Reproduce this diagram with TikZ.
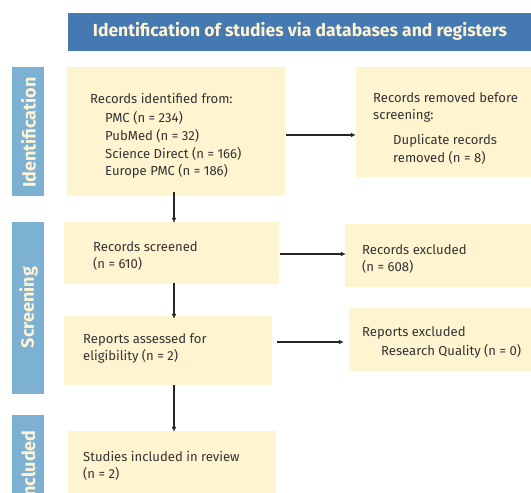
\documentclass[tikz,border=0pt]{standalone}
\usepackage{fontspec}
\setmainfont{Fira Sans}
\usetikzlibrary{arrows.meta}
\definecolor{titlebar}{HTML}{4479B1}
\definecolor{sidebar}{HTML}{7DB1D3}
\definecolor{boxfill}{HTML}{FFF4D0}
\definecolor{cream}{HTML}{FFF3D2}
\definecolor{txt}{HTML}{333333}
\tikzset{
  rbox/.style={fill=boxfill, draw=none, inner sep=0pt},
  sidebox/.style={fill=sidebar, draw=none, inner sep=0pt},
  sidetext/.style={text=cream, font=\fontsize{18}{20}\selectfont\bfseries, rotate=90, inner sep=0pt},
  bodytext/.style={text=txt, font=\fontsize{13.1}{17}\selectfont, anchor=base west, inner sep=0pt},
  arr/.style={-{Latex[length=5pt,width=5pt]}, line width=1.4pt, draw=black!85},
}
\begin{document}
\begin{tikzpicture}[x=1pt,y=-1pt]
\useasboundingbox (0,0) rectangle (531,493);
% title
\fill[titlebar] (68,13) rectangle (545,51);
\node[text=cream, font=\fontsize{17.5}{20}\selectfont\bfseries, inner sep=0pt] (title) at (300,31.5) {Identification of studies via databases and registers};
% side bars
\node[sidebox, minimum width=32pt, minimum height=129pt] (sideid) at (28,131.5) {};
\node[sidetext] (sideidt) at (28.5,132.5) {Identification};
\node[sidebox, minimum width=32pt, minimum height=172pt] (sidescr) at (28,308) {};
\node[sidetext] (sidescrt) at (28.5,307.5) {Screening};
\node[sidebox, minimum width=32pt, minimum height=100pt] (sideinc) at (28,465) {};
\node[sidetext] (sideinct) at (28.5,466) {Included};
% boxes
\node[rbox, minimum width=218pt, minimum height=129pt] (ident) at (176,131.5) {};
\node[rbox, minimum width=190pt, minimum height=110pt] (removed) at (451,122) {};
\node[rbox, minimum width=215pt, minimum height=62pt] (screened) at (171.5,253) {};
\node[rbox, minimum width=200pt, minimum height=63pt] (recexcl) at (445,255.5) {};
\node[rbox, minimum width=208pt, minimum height=69pt] (assessed) at (168,350.5) {};
\node[rbox, minimum width=200pt, minimum height=63pt] (repexcl) at (449,339.5) {};
\node[rbox, minimum width=208pt, minimum height=70pt] (included) at (172,466) {};
% texts
\node[bodytext] (t1) at (90,103) {Records identified from:};
\node[bodytext] (t2) at (105,122) {PMC (n = 234)};
\node[bodytext] (t3) at (105,140) {PubMed (n = 32)};
\node[bodytext] (t4) at (105,158) {Science Direct (n = 166)};
\node[bodytext] (t5) at (105,175) {Europe PMC (n = 186)};
\node[bodytext] (t6) at (373,102) {Records removed before};
\node[bodytext] (t7) at (373,119) {screening:};
\node[bodytext] (t8) at (393,144) {Duplicate records};
\node[bodytext] (t9) at (393,162) {removed (n = 8)};
\node[bodytext] (t10) at (93,251) {Records screened};
\node[bodytext] (t11) at (93,268) {(n = 610)};
\node[bodytext] (t12) at (362,254) {Records excluded};
\node[bodytext] (t13) at (362,271) {(n = 608)};
\node[bodytext] (t14) at (83,343) {Reports assessed for};
\node[bodytext] (t15) at (83,360) {eligibility (n = 2)};
\node[bodytext] (t16) at (362,336) {Reports excluded};
\node[bodytext] (t17) at (381,355) {Research Quality (n = 0)};
\node[bodytext] (t18) at (83,461) {Studies included in review};
\node[bodytext] (t19) at (83,478) {(n = 2)};
% connectors
\coordinate (xc) at (174,0);
\draw[arr] ([xshift=1pt]ident.east |- 0,135) -- (removed.west |- 0,135);
\draw[arr] ([yshift=4pt]ident.south -| xc) -- ([yshift=-1pt]screened.north -| xc);
\draw[arr] ([xshift=1pt]screened.east |- 0,254) -- ([xshift=1pt]recexcl.west |- 0,254);
\draw[arr] ([yshift=1pt]screened.south -| xc) -- ([yshift=-3pt]assessed.north -| xc);
\draw[arr] ([xshift=5pt]assessed.east |- 0,342) -- ([xshift=-5pt]repexcl.west |- 0,342);
\draw[arr] (assessed.south -| xc) -- ([yshift=-1pt]included.north -| xc);
\end{tikzpicture}
\end{document}
